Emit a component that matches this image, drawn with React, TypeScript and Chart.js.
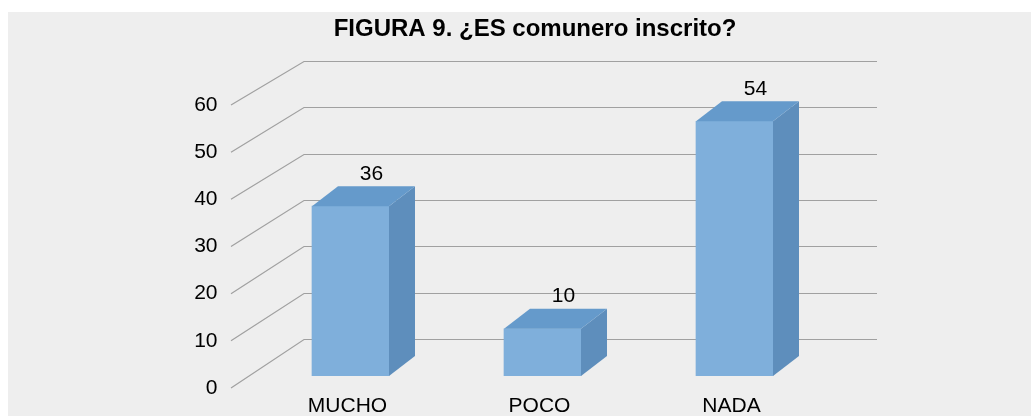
import React, { useEffect, useRef } from "react";
import { Chart, registerables } from "chart.js";

Chart.register(...registerables);

const categories = ["MUCHO", "POCO", "NADA"];
const values = [36, 10, 54];
const yTicks = [0, 10, 20, 30, 40, 50, 60];
const titleText = "FIGURA 9. ¿ES comunero inscrito?";

const FONT = '"Liberation Sans", Arial, sans-serif';
const W = 1023;
const H = 404;
const PAD_LEFT = 31;
const AREA_LEFT = 243.5;
const AREA_RIGHT = 819.5;
const AREA_TOP = 93;
const AREA_BOTTOM = 376;
const DX = 26;
const DY = -20;
const SHIFT_X = 3;
const SHIFT_Y = -12;
const FRONT = "#7fafdb";
const TOP = "#659acb";
const SIDE = "#5e8ebc";
const GRID = "#a0a0a0";

const wallPlugin = {
  id: "wall3d",
  beforeDatasetsDraw(chart: any) {
    const { ctx, chartArea, scales } = chart;
    const y = scales.y;
    const fx = chartArea.left - 20.5;
    const bx = fx + 73;
    const rx = 869;
    ctx.save();
    ctx.strokeStyle = GRID;
    ctx.lineWidth = 1.2;
    yTicks.forEach((v) => {
      const fy = y.getPixelForValue(v);
      const by = Math.round(fy - 49 + (5 * v) / 60) + 0.5;
      ctx.beginPath();
      ctx.moveTo(fx, fy);
      ctx.lineTo(bx, by);
      ctx.lineTo(rx, by);
      ctx.stroke();
    });
    ctx.restore();
    ctx.save();
    ctx.translate(SHIFT_X, SHIFT_Y);
  },
  afterDatasetsDraw(chart: any) {
    const ctx = chart.ctx;
    const meta = chart.getDatasetMeta(0);
    meta.data.forEach((bar: any, i: number) => {
      const { x, y, base, width } = bar.getProps(["x", "y", "base", "width"], true);
      const l = x - width / 2;
      const r = x + width / 2;
      ctx.fillStyle = SIDE;
      ctx.beginPath();
      ctx.moveTo(r, y);
      ctx.lineTo(r + DX, y + DY);
      ctx.lineTo(r + DX, base + DY);
      ctx.lineTo(r, base);
      ctx.closePath();
      ctx.fill();
      ctx.fillStyle = TOP;
      ctx.beginPath();
      ctx.moveTo(l, y);
      ctx.lineTo(l + DX, y + DY);
      ctx.lineTo(r + DX, y + DY);
      ctx.lineTo(r, y);
      ctx.closePath();
      ctx.fill();
      ctx.fillStyle = "#000";
      ctx.font = `21px ${FONT}`;
      ctx.textAlign = "center";
      ctx.textBaseline = "alphabetic";
      ctx.fillText(String(values[i]), x + 21, y + DY - 6.5);
    });
    ctx.restore();
  },
};

export default function App() {
  const ref = useRef<HTMLCanvasElement | null>(null);
  useEffect(() => {
    if (!ref.current) return;
    const chart = new Chart(ref.current, {
      type: "bar",
      data: {
        labels: categories,
        datasets: [
          {
            data: values,
            backgroundColor: FRONT,
            borderWidth: 0,
            barThickness: 77,
          },
        ],
      },
      options: {
        animation: false,
        responsive: false,
        layout: { padding: { left: PAD_LEFT, right: 0, top: 0, bottom: 0 } },
        plugins: {
          legend: { display: false },
          tooltip: { enabled: false },
          title: {
            display: true,
            text: titleText,
            color: "#000",
            font: { family: FONT, size: 24, weight: "bold", lineHeight: 1.2 },
            padding: { top: 3, bottom: AREA_TOP - 3 - 28.8 },
          },
        },
        scales: {
          x: {
            grid: { display: false, drawTicks: false },
            border: { display: false },
            ticks: { color: "#000", font: { family: FONT, size: 21 }, padding: 6 },
            afterFit: (s: any) => {
              s.height = H - AREA_BOTTOM;
            },
          },
          y: {
            min: 0,
            max: 60,
            ticks: { stepSize: 10, color: "#000", font: { family: FONT, size: 21 }, padding: 34 },
            grid: { display: false, drawTicks: false },
            border: { display: false },
            afterFit: (s: any) => {
              s.width = AREA_LEFT - PAD_LEFT;
              s.paddingTop = 0;
              s.paddingBottom = 0;
            },
          },
          y2: {
            position: "right",
            display: true,
            min: 0,
            max: 60,
            ticks: { display: false },
            grid: { display: false, drawTicks: false },
            border: { display: false },
            afterFit: (s: any) => {
              s.width = W - AREA_RIGHT;
              s.paddingTop = 0;
              s.paddingBottom = 0;
            },
          },
        },
      },
      plugins: [wallPlugin],
    } as any);
    return () => chart.destroy();
  }, []);
  return (
    <div
      style={{
        position: "absolute",
        left: 8,
        top: 12,
        width: W,
        height: H,
        background: "#eeeeee",
      }}
    >
      <canvas ref={ref} width={W} height={H} style={{ display: "block" }} />
    </div>
  );
}
